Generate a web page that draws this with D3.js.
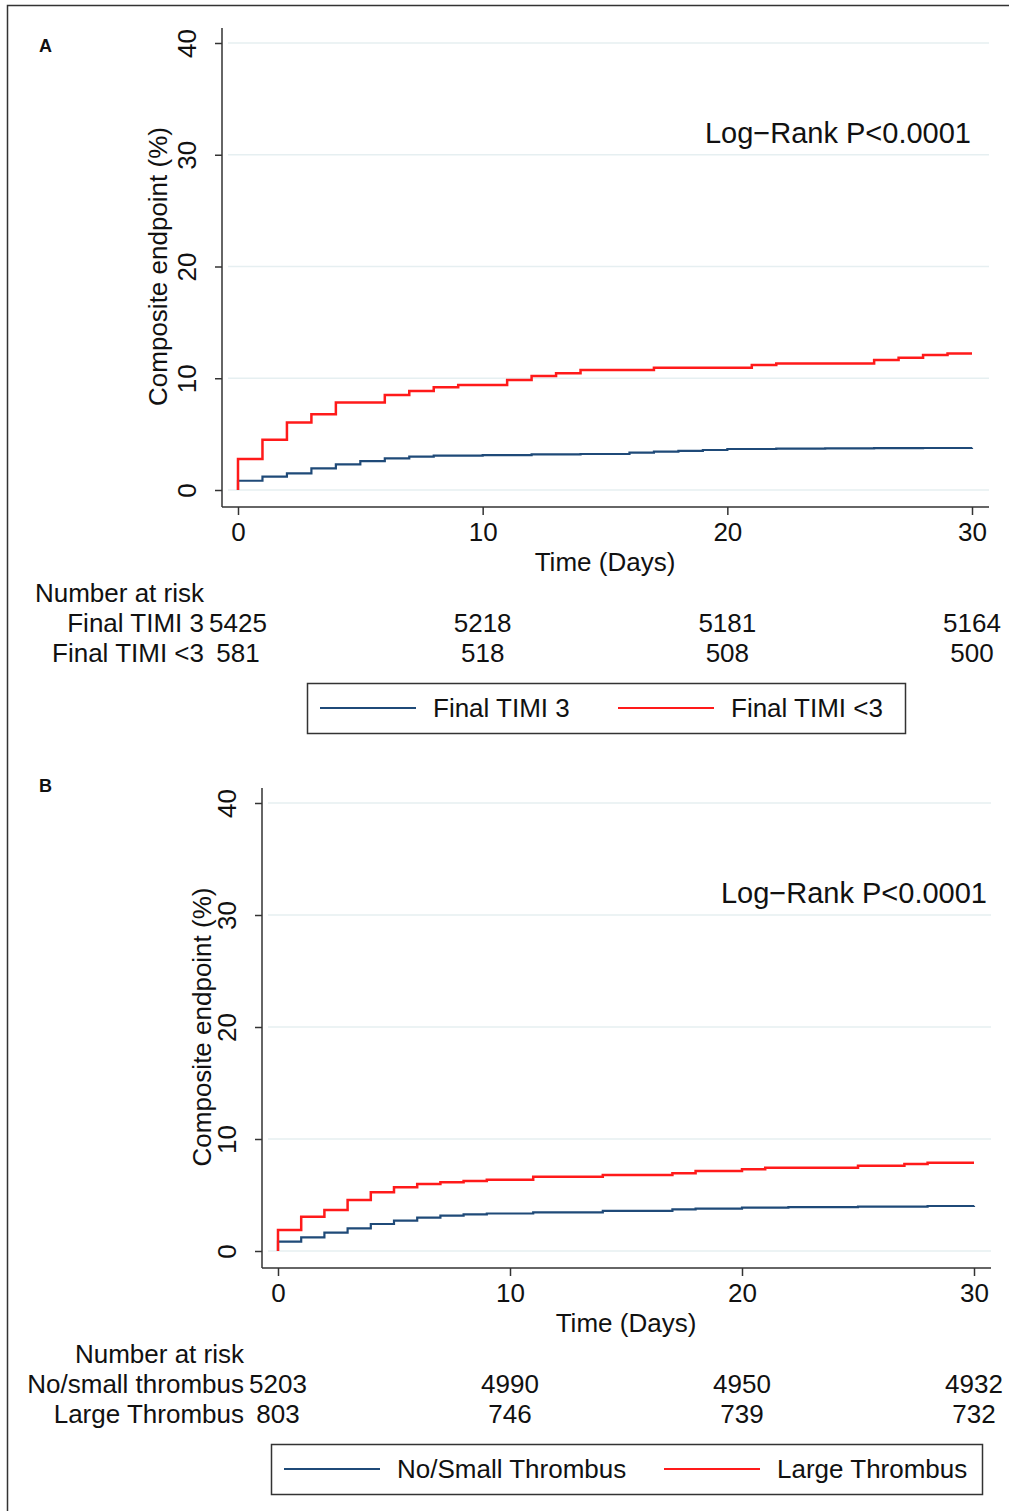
<!DOCTYPE html>
<meta charset="utf-8">
<style>
body { margin: 0; background: #fff; }
svg text { font-family: "Liberation Sans", Arial, Helvetica, sans-serif; fill: #111; }
.grid line { stroke: #e6eff1; stroke-width: 1.5; }
.axis path, .axis line { stroke: #333; stroke-width: 1.5; }
</style>
<svg width="1009" height="1511"></svg>
<script src="https://d3js.org/d3.v7.min.js"></script>
<script>

// ---- data ----
var yTicks = [0, 10, 20, 30, 40];
var xTicks = [0, 10, 20, 30];

// panel A
var aBlueDays = [0, 1, 2, 3, 4, 5, 6, 7, 8, 10, 12, 14, 16, 17, 18, 19, 20, 22, 24, 26, 28, 30];
var aBlueVals = [0.83, 1.19, 1.49, 1.94, 2.3, 2.59, 2.83, 2.98, 3.07, 3.12, 3.18, 3.22, 3.34, 3.43, 3.5, 3.58, 3.67, 3.7, 3.72, 3.74, 3.76, 3.78];
var aRedDays = [0, 1, 2, 3, 4, 6, 7, 8, 9, 11, 12, 13, 14, 17, 21, 22, 26, 27, 28, 29, 30];
var aRedVals = [2.77, 4.5, 6.05, 6.77, 7.84, 8.5, 8.85, 9.2, 9.4, 9.84, 10.2, 10.44, 10.73, 10.94, 11.18, 11.33, 11.63, 11.83, 12.07, 12.22, 12.22];
var aGroups = ["Final TIMI 3", "Final TIMI <3"];
var aRiskBlue = [5425, 5218, 5181, 5164];
var aRiskRed = [581, 518, 508, 500];

// panel B
var bBlueDays = [0, 1, 2, 3, 4, 5, 6, 7, 8, 9, 11, 14, 17, 18, 20, 22, 25, 28, 30];
var bBlueVals = [0.83, 1.22, 1.64, 2.02, 2.41, 2.71, 2.98, 3.15, 3.27, 3.35, 3.45, 3.58, 3.72, 3.78, 3.87, 3.92, 3.96, 4.02, 4.05];
var bRedDays = [0, 1, 2, 3, 4, 5, 6, 7, 8, 9, 11, 14, 17, 18, 20, 21, 25, 27, 28, 30];
var bRedVals = [1.88, 3.06, 3.66, 4.55, 5.24, 5.69, 5.98, 6.13, 6.25, 6.37, 6.64, 6.79, 6.94, 7.14, 7.29, 7.44, 7.62, 7.77, 7.88, 7.88];
var bRiskLabels = ["No/small thrombus", "Large Thrombus"];
var bLegend = ["No/Small Thrombus", "Large Thrombus"];
var bRiskBlue = [5203, 4990, 4950, 4932];
var bRiskRed = [803, 746, 739, 732];

var blue = "#1f4a78", red = "#ff1a1a";
var fs = 26;

var svg = d3.select("svg");

// outer frame
svg.append("path")
    .attr("d", "M7.5,1520 V5.5 H1020")
    .attr("fill", "none")
    .attr("stroke", "#333")
    .attr("stroke-width", 1.5);

function panel(p) {
  var x = d3.scaleLinear().domain([0, 30]).range(p.xr);
  var y = d3.scaleLinear().domain([0, 40]).range(p.yr);
  var g = svg.append("g");

  g.append("text").attr("x", 39).attr("y", p.letterY)
      .attr("font-size", 18).attr("font-weight", "bold").text(p.letter);

  // gridlines
  g.append("g").attr("class", "grid")
    .selectAll("line").data(yTicks).enter().append("line")
      .attr("x1", p.axisX + 6).attr("x2", p.right)
      .attr("y1", function(d) { return y(d); })
      .attr("y2", function(d) { return y(d); });

  // y axis
  var ya = g.append("g").attr("class", "axis")
      .attr("transform", "translate(" + p.axisX + ",0)")
      .call(d3.axisLeft(y).tickValues(yTicks).tickSize(7).tickSizeOuter(0).tickPadding(0));
  ya.select(".domain").attr("d", "M0," + p.yTop + "V" + p.axisY);
  ya.selectAll(".tick text")
      .attr("font-size", fs).attr("x", 0)
      .attr("text-anchor", "middle")
      .attr("transform", "translate(-35,0) rotate(-90)")
      .attr("dy", "0.35em")
      .attr("fill", "#111");

  // x axis
  var xa = g.append("g").attr("class", "axis")
      .attr("transform", "translate(0," + p.axisY + ")")
      .call(d3.axisBottom(x).tickValues(xTicks).tickSize(8).tickSizeOuter(0).tickPadding(8));
  xa.select(".domain").attr("d", "M" + p.axisX + ",0H" + p.right);
  xa.selectAll(".tick text").attr("font-size", fs).attr("fill", "#111");

  g.append("text")
      .attr("transform", "translate(" + p.ylabX + "," + y(20) + ") rotate(-90)")
      .attr("text-anchor", "middle").attr("dy", "0.35em")
      .attr("font-size", fs).text("Composite endpoint (%)");

  g.append("text")
      .attr("x", (p.xr[0] + p.xr[1]) / 2).attr("y", p.axisY + 64)
      .attr("text-anchor", "middle").attr("font-size", fs).text("Time (Days)");

  g.append("text")
      .attr("x", p.logX).attr("y", y(30) - 12)
      .attr("text-anchor", "end").attr("font-size", 29).text("Log\u2212Rank P<0.0001");

  // curves
  var line = d3.line()
      .x(function(d) { return x(d[0]); })
      .y(function(d) { return y(d[1]); })
      .curve(d3.curveStepAfter);

  function pts(days, vals) {
    return [[0, 0]].concat(d3.zip(days, vals));
  }
  g.append("path").datum(pts(p.blueDays, p.blueVals))
      .attr("fill", "none").attr("stroke", blue).attr("stroke-width", 2.2)
      .attr("d", line);
  g.append("path").datum(pts(p.redDays, p.redVals))
      .attr("fill", "none").attr("stroke", red).attr("stroke-width", 2.5)
      .attr("d", line);

  // number at risk
  var r0 = p.axisY + 95;
  g.append("text").attr("x", p.riskX).attr("y", r0)
      .attr("text-anchor", "end").attr("font-size", fs).text("Number at risk");
  [p.riskBlue, p.riskRed].forEach(function(row, i) {
    var ry = r0 + 30 * (i + 1);
    g.append("text").attr("x", p.riskX).attr("y", ry)
        .attr("text-anchor", "end").attr("font-size", fs).text(p.riskLabels[i]);
    g.selectAll(null).data(row).enter().append("text")
        .attr("x", function(d, j) { return x(xTicks[j]); })
        .attr("y", ry).attr("text-anchor", "middle").attr("font-size", fs)
        .text(function(d) { return d; });
  });

  // legend
  var lg = g.append("g");
  lg.append("rect").attr("x", p.leg[0] + 0.5).attr("y", p.leg[1] + 0.5)
      .attr("width", p.leg[2]).attr("height", 50)
      .attr("fill", "#fff").attr("stroke", "#333").attr("stroke-width", 1.5);
  var ly = p.leg[1] + 25;
  [[blue, p.legend[0], p.legItems[0]], [red, p.legend[1], p.legItems[1]]].forEach(function(it) {
    lg.append("line").attr("x1", it[2]).attr("x2", it[2] + 96)
        .attr("y1", ly).attr("y2", ly).attr("stroke", it[0]).attr("stroke-width", 2.2);
    lg.append("text").attr("x", it[2] + 113).attr("y", ly).attr("dy", "0.35em")
        .attr("font-size", fs).text(it[1]);
  });
}

panel({
  letter: "A", letterY: 52, xr: [238, 972], yr: [490, 43], axisX: 222, axisY: 507, yTop: 28, right: 989,
  ylabX: 158, riskX: 204, logX: 971,
  blueDays: aBlueDays, blueVals: aBlueVals, redDays: aRedDays, redVals: aRedVals,
  riskLabels: aGroups, riskBlue: aRiskBlue, riskRed: aRiskRed,
  legend: aGroups, leg: [307, 683, 598], legItems: [320, 618]
});

panel({
  letter: "B", letterY: 792, xr: [278, 974], yr: [1251, 803], axisX: 262, axisY: 1268, yTop: 788, right: 991,
  ylabX: 202, riskX: 244, logX: 987,
  blueDays: bBlueDays, blueVals: bBlueVals, redDays: bRedDays, redVals: bRedVals,
  riskLabels: bRiskLabels, riskBlue: bRiskBlue, riskRed: bRiskRed,
  legend: bLegend, leg: [271, 1444, 711], legItems: [284, 664]
});

</script>
